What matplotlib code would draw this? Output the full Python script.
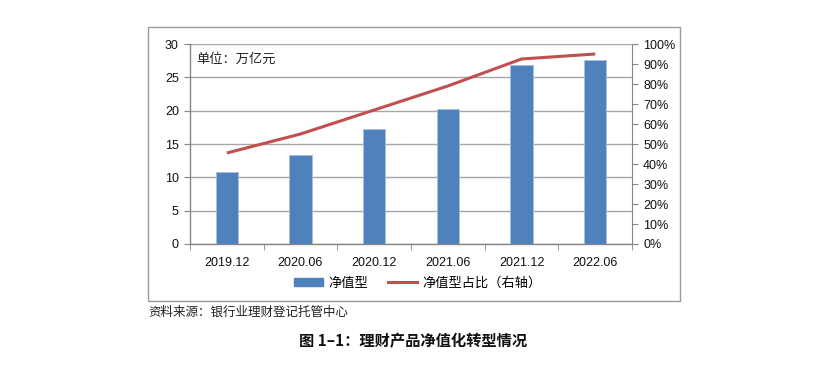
import matplotlib
matplotlib.use("Agg")
import matplotlib.pyplot as plt
from matplotlib.patches import Rectangle
from matplotlib.lines import Line2D
import numpy as np

plt.rcParams['font.family'] = ['Noto Sans CJK SC', 'DejaVu Sans']

categories = ["2019.12", "2020.06", "2020.12", "2021.06", "2021.12", "2022.06"]
net_value = [10.8, 13.4, 17.2, 20.3, 26.9, 27.6]
net_share = [45.5, 55.0, 67.0, 79.0, 92.5, 95.0]
left_ticks = [0, 5, 10, 15, 20, 25, 30]
right_ticks = [0, 10, 20, 30, 40, 50, 60, 70, 80, 90, 100]

bar_color = "#4F81BD"
line_color = "#C0504D"
grid_color = "#A6A6A6"
tick_font = ['Liberation Sans', 'DejaVu Sans']

fig = plt.figure(figsize=(8.26, 3.69), dpi=100)

# outer chart box
fig.patches.append(Rectangle((148/826, 1-301/369), (680-148)/826, (301-27)/369,
                             transform=fig.transFigure, fill=False,
                             edgecolor="#9A9A9A", linewidth=1.0))

ax = fig.add_axes([190/826, 1-244/369, (632-190)/826, 200/369])
x = np.arange(len(categories))
ax.bar(x, net_value, width=0.3, color=bar_color, edgecolor="#A7C0DE", linewidth=0.6, zorder=3)
ax.set_xlim(-0.5, len(categories)-0.5)
ax.set_ylim(0, 30)
ax.set_yticks(left_ticks)
ax.set_yticklabels([str(v) for v in left_ticks], family=tick_font, fontsize=9, color="#111111")
ax.yaxis.grid(True, color=grid_color, linewidth=1.0, zorder=0)
ax.set_axisbelow(True)
ax.set_xticks(x)
ax.set_xticklabels(categories, family=tick_font, fontsize=9, color="#111111")
ax.set_xticks(np.arange(-0.5, len(categories)), minor=True)
ax.tick_params(axis='x', which='major', length=0, pad=9)
ax.tick_params(axis='x', which='minor', length=4, color="#868686", direction='out')
ax.tick_params(axis='y', length=4, color="#868686", direction='out', pad=4)
for s in ["top", "right"]:
    ax.spines[s].set_visible(False)
for s in ["left", "bottom"]:
    ax.spines[s].set_color("#868686")
    ax.spines[s].set_linewidth(1.0)

ax.text(0.015, 0.955, "单位：万亿元", transform=ax.transAxes, fontsize=9.5,
        va="top", ha="left", color="#222222")

ax2 = ax.twinx()
ax2.plot(x, net_share, color=line_color, linewidth=2.2, zorder=4, solid_capstyle='butt')
ax2.set_ylim(0, 100)
ax2.set_yticks(right_ticks)
ax2.set_yticklabels([f"{v}%" for v in right_ticks], family=tick_font, fontsize=9, color="#111111")
ax2.tick_params(axis='y', length=4, color="#868686", direction='out', pad=4)
for s in ["top", "left", "bottom"]:
    ax2.spines[s].set_visible(False)
ax2.spines["right"].set_color("#868686")

handles = [Rectangle((0, 0), 1, 1, color=bar_color),
           Line2D([0], [0], color=line_color, linewidth=2.2)]
fig.legend(handles, ["净值型", "净值型占比（右轴）"], loc="center",
           bbox_to_anchor=(418/826, 1-283/369), ncol=2, frameon=False,
           fontsize=9.5, handlelength=2.2, handleheight=0.6, columnspacing=1.5,
           handletextpad=0.4)

fig.text(148/826, 1-312/369, "资料来源：银行业理财登记托管中心", fontsize=9, ha="left",
         va="center", color="#222222")
fig.text(413/826, 1-341/369, "图 1–1：理财产品净值化转型情况", fontsize=11, ha="center",
         va="center", fontweight="bold", color="#111111")

fig.savefig("out.png", dpi=100)
